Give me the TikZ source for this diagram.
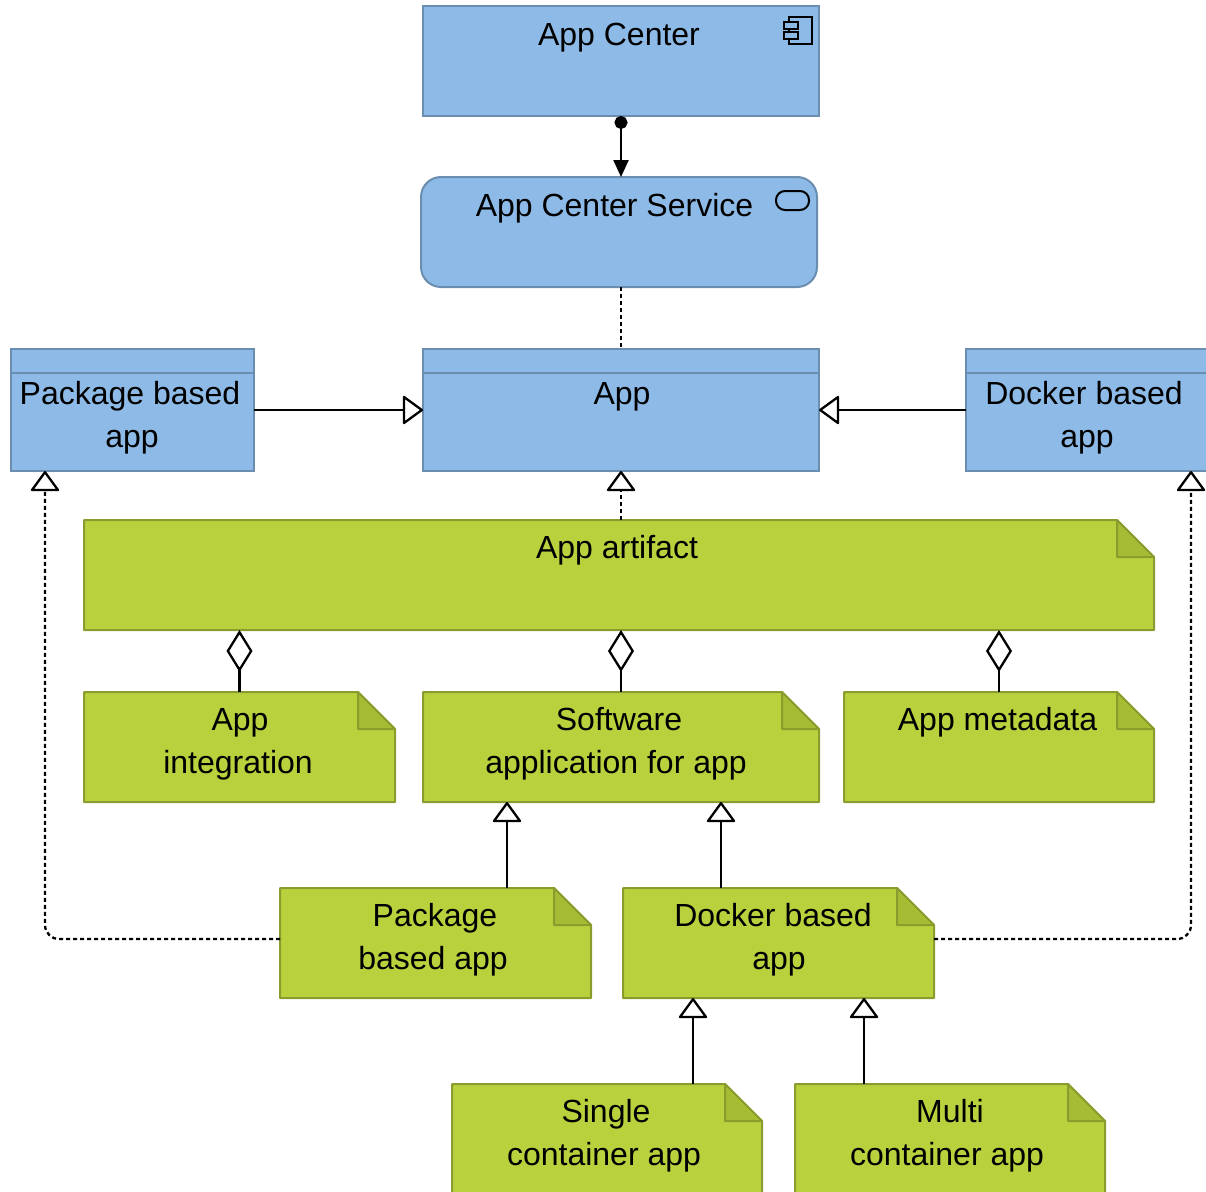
\documentclass[tikz,border=0pt]{standalone}
\usepackage{fontspec}
\setmainfont{Liberation Sans}
\usetikzlibrary{arrows.meta}
\definecolor{bluefill}{HTML}{8DBAE6}
\definecolor{bluedraw}{HTML}{6A8DB0}
\definecolor{greenfill}{HTML}{B9D13D}
\definecolor{greendraw}{HTML}{8A9C2E}
\definecolor{greenfold}{HTML}{A7BC35}
\tikzset{
  frame/.style={anchor=north west,inner sep=0pt,outer sep=0pt},
  bluebox/.style={frame,draw=bluedraw,fill=bluefill,line width=2pt},
  greenghost/.style={frame},
  greenshape/.style={draw=greendraw,fill=greenfill,line width=2pt,line join=round},
  foldshape/.style={draw=greendraw,fill=greenfold,line width=2pt,line join=round},
  lbl/.style={anchor=north,inner sep=0pt,outer sep=0pt,align=center,text=black,font=\fontsize{32}{43}\selectfont},
  conn/.style={line width=2.3pt,draw=black},
  dots/.style={conn,dash pattern=on 4pt off 3pt},
  hollow/.style={-{Triangle[fill=white,length=21pt,width=30pt,line width=2.3pt,round=false]}},
  solidtip/.style={{Circle[length=13pt,width=13pt]}-{Triangle[length=17pt,width=15pt]}},
  aggreg/.style={{Diamond[fill=white,length=42pt,width=26pt,line width=2.3pt]}-},
  icon/.style={draw=black,line width=2pt}
}
% name, x, y, w, h
\newcommand{\artbox}[5]{%
  \node[greenghost,minimum width=#4pt,minimum height=#5pt] (#1) at (#2,#3) {};
  \draw[greenshape] (#1.north west) -- ([xshift=-37pt]#1.north east) -- ([yshift=-37pt]#1.north east) -- (#1.south east) -- (#1.south west) -- cycle;
  \draw[foldshape] ([xshift=-37pt]#1.north east) -- ([xshift=-37pt,yshift=-37pt]#1.north east) -- ([yshift=-37pt]#1.north east) -- cycle;
}
% name, x, y, w, h (class with header compartment)
\newcommand{\classbox}[5]{%
  \node[bluebox,minimum width=#4pt,minimum height=#5pt] (#1) at (#2,#3) {};
  \draw[draw=bluedraw,line width=2pt] ([yshift=-24pt]#1.north west) -- ([yshift=-24pt]#1.north east);
}
% name, x, baseline y, text
\newcommand{\lab}[4]{\node[lbl] (#1) at (#2,#3-30.1) {\strut #4};}
\begin{document}
\begin{tikzpicture}[x=1pt,y=-1pt]
\useasboundingbox (0,0) rectangle (1206,1191);
\clip (0,0) rectangle (1206,1191);

% Blue elements
\node[bluebox,minimum width=396pt,minimum height=110pt] (center) at (423,6) {};
\node[bluebox,minimum width=396pt,minimum height=110pt,rounded corners=20pt] (service) at (421,177) {};
\classbox{app}{423}{349}{396}{122}
\classbox{pkgclass}{11}{349}{243}{122}
\classbox{dockclass}{966}{349}{243}{122}

% Green artifacts
\artbox{artifact}{84}{520}{1070}{110}
\artbox{integration}{84}{692}{311}{110}
\artbox{software}{423}{692}{396}{110}
\artbox{metadata}{844}{692}{310}{110}
\artbox{pkgart}{280}{888}{311}{110}
\artbox{dockart}{623}{888}{311}{110}
\artbox{single}{452}{1084}{310}{110}
\artbox{multi}{795}{1084}{310}{110}

% Icons
\draw[icon] (789,17) rectangle (812,44);
\draw[icon,fill=bluefill] (784,22) rectangle (798,29);
\draw[icon,fill=bluefill] (784,32) rectangle (798,39);
\draw[icon,rounded corners=9pt] (776,191) rectangle (809,210);

% Labels
\lab{centerlabel}{619}{45}{App Center}
\lab{servicelabel}{614.5}{216}{App Center Service}
\lab{applabel}{622}{404}{App}
\lab{pkgclasslabel}{130}{404}{Package based\\\hspace*{4pt}app\strut}
\lab{dockclasslabel}{1084}{404}{Docker based\\\hspace*{6pt}app\strut}
\lab{artifactlabel}{617}{558}{App artifact}
\lab{integrationlabel}{238}{730}{\hspace*{4pt}App\\integration\strut}
\lab{softwarelabel}{616}{730}{\hspace*{6pt}Software\\application for app\strut}
\lab{metadatalabel}{997.5}{730}{App metadata}
\lab{pkgartlabel}{433}{926}{\hspace*{4pt}Package\\based app\strut}
\lab{dockartlabel}{773}{926}{Docker based\\\hspace*{12pt}app\strut}
\lab{singlelabel}{604}{1122}{\hspace*{4pt}Single\\container app\strut}
\lab{multilabel}{947}{1122}{\hspace*{6pt}Multi\\container app\strut}

% Connectors
\draw[conn,solidtip] (center.south) -- (center.south |- service.north);
\draw[dots] (center.south |- service.south) -- (center.south |- app.north);
\draw[conn,hollow] (pkgclass.east) -- (app.west);
\draw[conn,hollow] (dockclass.west) -- (app.east);
\draw[dots,hollow] (app.south |- artifact.north) -- (app.south);
\draw[conn,aggreg] (artifact.south -| integration.north) -- (integration.north);
\draw[conn,aggreg] (artifact.south -| software.north) -- (software.north);
\draw[conn,aggreg] (artifact.south -| metadata.north) -- (metadata.north);
\coordinate (pkgup) at ([xshift=227pt]pkgart.north west);
\coordinate (dockup) at ([xshift=98pt]dockart.north west);
\coordinate (singleup) at ([xshift=241pt]single.north west);
\coordinate (multiup) at ([xshift=69pt]multi.north west);
\draw[conn,hollow] (pkgup) -- (pkgup |- software.south);
\draw[conn,hollow] (dockup) -- (dockup |- software.south);
\draw[conn,hollow] (singleup) -- (singleup |- dockart.south);
\draw[conn,hollow] (multiup) -- (multiup |- dockart.south);
\coordinate (pkgtap) at ([yshift=-51pt]pkgart.north west);
\coordinate (docktap) at ([yshift=-51pt]dockart.north east);
\coordinate (pkgreal) at ([xshift=34pt]pkgclass.south west);
\coordinate (dockreal) at ([xshift=225pt]dockclass.south west);
\draw[dots,hollow,rounded corners=14pt] (pkgtap) -| (pkgreal);
\draw[dots,hollow,rounded corners=14pt] (docktap) -| (dockreal);
\end{tikzpicture}
\end{document}
